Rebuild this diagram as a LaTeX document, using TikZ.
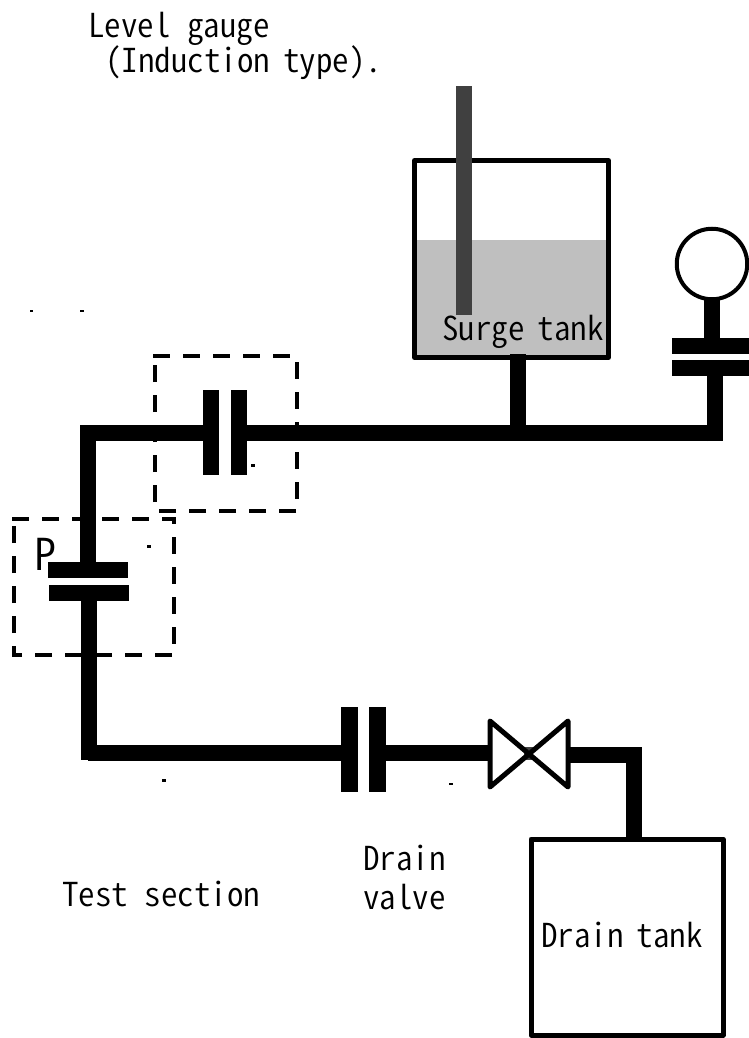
\documentclass[tikz,border=0pt]{standalone}
\usepackage{fontspec}
\newfontfamily\gothic[RawFeature=+hwid]{Noto Sans CJK JP DemiLight}
\newcommand{\gap}{\hspace{13pt}}
\tikzset{
  label/.style={anchor=base west,inner sep=0pt,font=\gothic\fontsize{33}{33}\selectfont},
  hplate/.style={fill=black,draw=none,inner sep=0pt,minimum width=80pt,minimum height=16pt},
  vplate/.style={fill=black,draw=none,inner sep=0pt,minimum width=16.5pt,minimum height=85pt},
  pipe/.style={line width=16pt,line cap=butt,line join=miter},
  tankbox/.style={draw=black,line width=5pt,line join=round,inner sep=0pt},
  dashframe/.style={inner sep=0pt,outer sep=0pt},
  dashline/.style={draw=black,line width=4.5pt,dash pattern=on 17pt off 13pt},
  speck/.style={fill=black,draw=none,inner sep=0pt,minimum width=3.5pt,minimum height=2.5pt}
}
\begin{document}
\begin{tikzpicture}[x=1pt,y=-1pt]
\useasboundingbox (0,0) rectangle (749,1038);
% surge tank
\fill[fill=white] (414.5,160.5) rectangle (608.5,357.5);
\fill[fill={rgb,255:red,191;green,191;blue,191}] (414.5,240) rectangle (608.5,357.5);
\node[tankbox,minimum width=194pt,minimum height=197pt] (surge) at (511.5,259) {};
\node[fill={rgb,255:red,64;green,64;blue,64},inner sep=0pt,minimum width=16pt,minimum height=229pt] (gauge) at (464,200.5) {};
% joints
\coordinate (corner1) at (88,433);
\coordinate (tee) at (518,433);
\coordinate (corner2) at (714.5,433);
\coordinate (corner3) at (88,752.5);
\coordinate (corner4) at (634,754.5);
% flanges
\node[vplate] (f1a) at (211,432.5) {};
\node[vplate] (f1b) at (239,432.5) {};
\node[hplate] (f2a) at (88,570) {};
\node[hplate] (f2b) at (89,593) {};
\node[vplate] (f3a) at (349.5,749.5) {};
\node[vplate] (f3b) at (377.5,749.5) {};
\node[hplate,minimum width=78pt] (f4a) at (711,346) {};
\node[hplate,minimum width=78pt] (f4b) at (711,368) {};
% valve
\fill[white] (490,721) -- (568,787) -- (568,721) -- (490,787) -- cycle;
\fill[fill={rgb,255:red,64;green,64;blue,64}] (524,747) rectangle (533,760);
\draw[line width=5pt,line join=round] (490,721) -- (568,787) -- (568,721) -- (490,787) -- cycle;
% pipes
\draw[pipe] ([yshift=-7pt]corner1) -- (88,570);
\draw[pipe] (80,433) -- (f1a.west |- corner1);
\draw[pipe] (f1b.east |- corner1) -- (722,433);
\draw[pipe] (f2b.south -| 88.5,0) -- (88.5,760);
\draw[pipe] (88,752.5) -- (f3a.west |- corner3);
\draw[pipe] (f3b.east |- 0,753) -- (490,753);
\draw[pipe] (568,754.5) -- (642,754.5);
\draw[pipe] (corner4) -- (634,840);
\draw[pipe] (518,354) -- (tee);
\draw[pipe] (714.5,441) -- (f4b.south -| 714.5,0);
\draw[pipe] (712,300) -- (f4a.north -| 712,0);
% gauge dial
\node[circle,draw=black,line width=4pt,fill=white,inner sep=0pt,minimum size=70.5pt] (dial) at (712,264) {};
% drain tank
\node[tankbox,minimum width=192pt,minimum height=196pt] (drain) at (627,937) {};
% dashed boxes (clockwise, so the dashes fall as in the drawing)
\node[dashframe,minimum width=142pt,minimum height=155pt] (box1) at (226,433.5) {};
\draw[dashline] ([xshift=-2pt]box1.north west) -- (box1.north east) -- (box1.south east) -- (box1.south west) -- (box1.north west);
\node[dashframe,minimum width=160pt,minimum height=136pt] (box2) at (94,587) {};
\draw[dashline] ([xshift=-2pt]box2.north west) -- (box2.north east) -- (box2.south east) -- (box2.south west) -- (box2.north west);
% specks
\node[speck] (s1) at (31.5,311) {};
\node[speck] (s2) at (82,311) {};
\node[speck] (s3) at (253,465.5) {};
\node[speck] (s4) at (149,546.5) {};
\node[speck] (s5) at (164,780.5) {};
\node[speck] (s6) at (451,784) {};
% labels
\node[label] (t1) at (88,38) {Level gauge};
\node[label] (t2) at (105,73) {(Induction\gap type).};
\node[label] (t3) at (442,340) {Surge\gap tank};
\node[label,font=\gothic\fontsize{44}{44}\selectfont] (t4) at (34,570) {P};
\node[label] (t5) at (363,870) {Drain};
\node[label] (t6) at (363,909) {valve};
\node[label] (t7) at (62,906) {Test section};
\node[label] (t8) at (541,947) {Drain\gap tank};
\end{tikzpicture}
\end{document}
